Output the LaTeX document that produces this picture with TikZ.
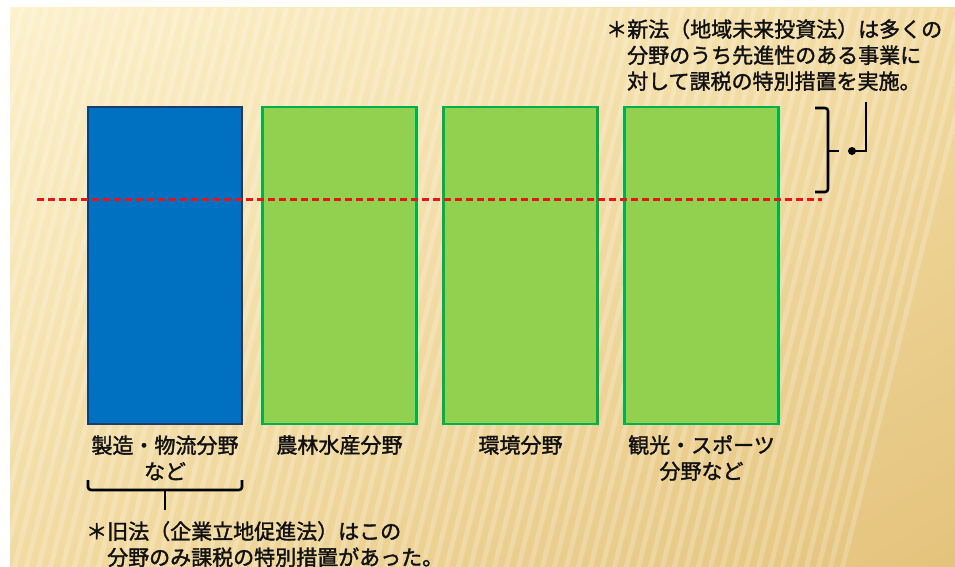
\documentclass[tikz,border=0pt]{standalone}
\usepackage{fontspec}
\newfontfamily\jp[FakeBold=1.6]{Noto Sans CJK JP}
\usetikzlibrary{calc,shadings}
\definecolor{bgA}{HTML}{FCF1CB}
\definecolor{bgB}{HTML}{F2DAA0}
\definecolor{bgC}{HTML}{E4C37C}
\definecolor{blueF}{HTML}{0070C0}
\definecolor{blueD}{HTML}{1B3A6E}
\definecolor{greenF}{HTML}{92D050}
\definecolor{greenD}{HTML}{00B04C}
\definecolor{redL}{HTML}{E8141B}
\definecolor{txt}{HTML}{111111}
\tikzset{
  fieldbox/.style={rectangle, minimum width=154pt, minimum height=317pt, line width=2.5pt, inner sep=0pt},
  bluebox/.style={fieldbox, fill=blueF, draw=blueD},
  greenbox/.style={fieldbox, fill=greenF, draw=greenD},
  lbl/.style={font=\jp\fontsize{21}{26}\selectfont, text=txt, align=center, inner sep=0pt},
  note/.style={font=\jp\fontsize{21}{26}\selectfont, text=txt, align=left, inner sep=0pt},
  bracel/.style={line width=2.6pt, draw=black, rounded corners=3pt},
  redline/.style={draw=redL, line width=2.5pt, dash pattern=on 7pt off 4pt}
}
\begin{document}
\begin{tikzpicture}[x=1pt,y=-1pt]
\useasboundingbox (0,0) rectangle (955,567);
\fill[white] (0,0) rectangle (955,567);
% background
\shade[upper left=bgA, upper right=bgB, lower left=bgB, lower right=bgC] (10,8) rectangle (955,567);
\begin{scope}
\clip (10,8) rectangle (955,567);
\foreach \i in {-20,...,80} {
  \fill[white, opacity=0.22] (\i*12-120,567) -- (\i*12-115,567) -- (\i*12+25,8) -- (\i*12+20,8) -- cycle;
}
\end{scope}
% boxes
\node[bluebox]  (b1) at (165,265.5) {};
\node[greenbox] (b2) at (339.5,265.5) {};
\node[greenbox] (b3) at (520.5,265.5) {};
\node[greenbox] (b4) at (701.5,265.5) {};
% red dashed line
\coordinate (r1) at (37,199.5);
\coordinate (r2) at (822,199.5);
\draw[redline] (r1) -- (r2);
% labels
\node[lbl] (l1) at (165,458) {製造・物流分野\\など};
\node[lbl] (l2) at (339.5,445) {農林水産分野};
\node[lbl] (l3) at (520.5,445) {環境分野};
\node[lbl] (l4) at (701.5,458) {観光・スポーツ\\分野など};
% top right note
\node[note, anchor=west] (n1) at (606,55) {＊新法（地域未来投資法）は多くの\\\hspace*{21pt}分野のうち先進性のある事業に\\\hspace*{21pt}対して課税の特別措置を実施。};
% right brace
\coordinate (rb1) at (815,108);
\coordinate (rb2) at (828,108);
\coordinate (rb3) at (828,192);
\coordinate (rb4) at (815,192);
\coordinate (rbm) at (828,151);
\coordinate (rbt) at (839,151);
\draw[bracel] (rb1) -- (rb2) -- (rb3) -- (rb4);
\draw[line width=2.6pt] (rbm) -- (rbt);
\coordinate (dot) at (852,151);
\coordinate (dc) at (866,151);
\coordinate (dt) at (866,102);
\fill (dot) circle (4pt);
\draw[line width=2.6pt] (dot) -- (dc) -- (dt);
% bottom brace
\coordinate (bb1) at (88,480);
\coordinate (bb2) at (88,490);
\coordinate (bb3) at (242,490);
\coordinate (bb4) at (242,480);
\coordinate (bbm) at (165,490);
\coordinate (bbt) at (165,510);
\draw[bracel] (bb1) -- (bb2) -- (bb3) -- (bb4);
\draw[line width=2.6pt] (bbm) -- (bbt);
% bottom note
\node[note, anchor=north west] (n2) at (86,521) {＊旧法（企業立地促進法）はこの\\\hspace*{21pt}分野のみ課税の特別措置があった。};
\end{tikzpicture}
\end{document}
